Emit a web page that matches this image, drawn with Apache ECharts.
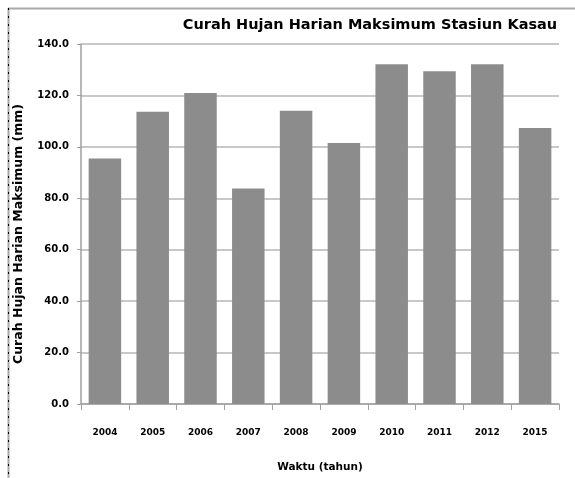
<!DOCTYPE html>
<html>
<head>
<meta charset="utf-8">
<script src="https://cdn.jsdelivr.net/npm/echarts@6/dist/echarts.min.js"></script>
<style>
html,body{margin:0;padding:0;background:#fff;}
#c{width:575px;height:478px;}
</style>
</head>
<body>
<div id="c"></div>
<script>
const years = ['2004','2005','2006','2007','2008','2009','2010','2011','2012','2015'];
const rainfall = [95.5, 113.7, 120.9, 83.8, 114.0, 101.5, 132.1, 129.4, 132.1, 107.3];
const titleText = 'Curah Hujan Harian Maksimum Stasiun Kasau';
const xName = 'Waktu (tahun)';
const yName = 'Curah Hujan Harian Maksimum (mm)';

const F = 'DejaVu Sans';
const chart = echarts.init(document.getElementById('c'));
chart.setOption({
  animation: false,
  backgroundColor: '#fff',
  title: {
    text: titleText, left: 365, top: 13, textAlign: 'center',
    textStyle: {fontFamily: F, fontWeight: 'bold', fontSize: 14.5, color: '#000'}
  },
  grid: {left: 81, right: 16, top: 44, bottom: 73},
  xAxis: {
    type: 'category', data: years,
    name: xName, nameLocation: 'middle', nameGap: 58,
    nameTextStyle: {fontFamily: F, fontWeight: 'bold', fontSize: 10.5, color: '#000'},
    axisLine: {lineStyle: {color: '#a0a0a0', width: 1.5}},
    axisTick: {show: true, length: 6, lineStyle: {color: '#a0a0a0'}},
    axisLabel: {fontFamily: F, fontWeight: 'bold', fontSize: 9, color: '#000', margin: 24}
  },
  yAxis: {
    type: 'value', min: 0, max: 140, interval: 20,
    name: yName, nameLocation: 'middle', nameGap: 56,
    nameTextStyle: {fontFamily: F, fontWeight: 'bold', fontSize: 12.5, color: '#000', padding: [0, 20, 0, 0]},
    axisLine: {show: true, lineStyle: {color: '#a0a0a0', width: 1.5}},
    axisTick: {show: true, length: 4, lineStyle: {color: '#a0a0a0'}},
    axisLabel: {fontFamily: F, fontWeight: 'bold', fontSize: 10, color: '#000', margin: 12,
      formatter: v => v.toFixed(1)},
    splitLine: {lineStyle: {color: '#c8c8c8', width: 2}}
  },
  series: [{
    type: 'bar', data: rainfall, barCategoryGap: '32%',
    itemStyle: {color: '#8c8c8c'}
  }],
  graphic: [
    {type: 'line', shape: {x1: 8, y1: 8.5, x2: 575, y2: 8.5}, style: {stroke: '#a8a8a8', lineWidth: 2}},
    {type: 'line', shape: {x1: 8.5, y1: 8, x2: 8.5, y2: 478}, style: {stroke: '#a8a8a8', lineWidth: 2}},
    {type: 'line', shape: {x1: 8.5, y1: 8, x2: 8.5, y2: 478}, style: {stroke: '#000', lineWidth: 1, lineDash: [2, 6]}}
  ]
});
</script>
</body>
</html>
